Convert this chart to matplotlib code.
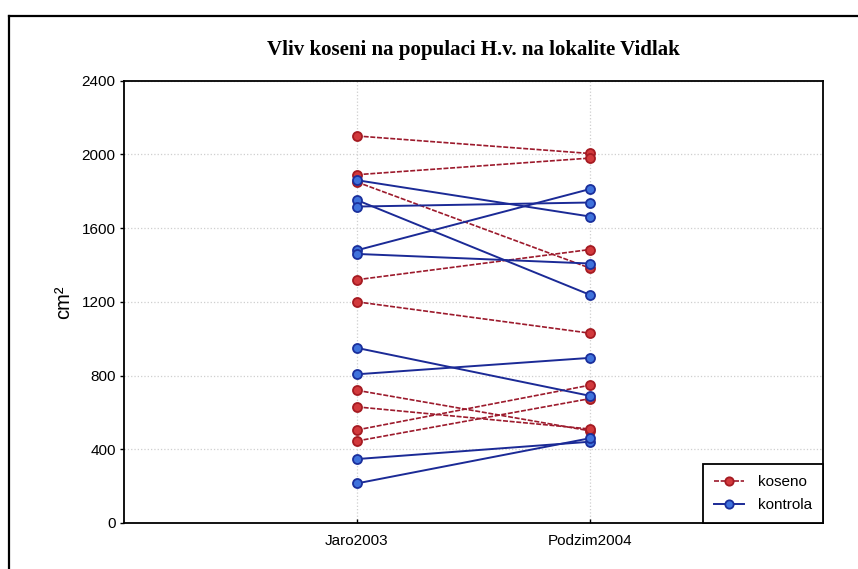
import matplotlib.pyplot as plt
from matplotlib.lines import Line2D

# survey dates
seasons = ["Jaro2003", "Podzim2004"]

# koseno (mown plots), area in cm2
koseno_jaro = [2100, 1890, 1850, 1320, 1200, 720, 630, 505, 445]
koseno_podzim = [2005, 1980, 1383, 1484, 1030, 500, 510, 748, 675]

# kontrola (control plots)
kontrola_jaro = [1860, 1752, 1717, 1480, 1460, 950, 807, 347, 215]
kontrola_podzim = [1663, 1238, 1739, 1812, 1408, 690, 896, 441, 460]

yticks = [0, 400, 800, 1200, 1600, 2000, 2400]

red_line = "#9c1a2c"
red_face = "#d2393c"
red_edge = "#a51b22"
blue_line = "#1b2a96"
blue_face = "#3f72dc"
blue_edge = "#1a2f9c"

fig = plt.figure(figsize=(8.58, 5.69), dpi=100)
ax = fig.add_axes([124 / 858, 46 / 569, 699 / 858, 442.3 / 569])

xpos = [1, 2]

for a, b in zip(koseno_jaro, koseno_podzim):
    ax.plot(xpos, [a, b], color=red_line, lw=1.2, ls=(0, (3, 1)),
            marker="o", ms=6.5, mfc=red_face, mec=red_edge, mew=1.3, zorder=3)

for a, b in zip(kontrola_jaro, kontrola_podzim):
    ax.plot(xpos, [a, b], color=blue_line, lw=1.4, ls="-",
            marker="o", ms=6.5, mfc=blue_face, mec=blue_edge, mew=1.3, zorder=4)

ax.set_xlim(0, 3)
ax.set_ylim(0, 2400)
ax.set_xticks(xpos)
ax.set_xticklabels(seasons)
ax.set_yticks(yticks)

ax.grid(True, color="#cfcfcf", ls=":", lw=0.9, zorder=0)
ax.set_axisbelow(True)

for s in ax.spines.values():
    s.set_linewidth(1.3)
    s.set_color("black")

ax.tick_params(axis="y", direction="out", length=3, width=1, labelsize=11, pad=3)
ax.tick_params(axis="x", direction="in", length=3, width=1, labelsize=11, pad=8)
for lbl in ax.get_xticklabels() + ax.get_yticklabels():
    lbl.set_family("Liberation Sans")

ax.set_ylabel("cm²", family="Liberation Sans", fontsize=14.5, labelpad=6)

fig.text(473 / 858, 1 - 50 / 569, "Vliv koseni na populaci H.v. na lokalite Vidlak",
         ha="center", va="center", family="Liberation Serif", weight="bold",
         fontsize=15)

handles = [
    Line2D([], [], color=red_line, lw=1.2, ls=(0, (3, 1)), marker="o", ms=6,
           mfc=red_face, mec=red_edge, mew=1.3),
    Line2D([], [], color=blue_line, lw=1.4, marker="o", ms=6,
           mfc=blue_face, mec=blue_edge, mew=1.3),
]
leg = ax.legend(handles, ["koseno", "kontrola"], loc="lower right",
                borderaxespad=0, fancybox=False, framealpha=1,
                prop={"family": "Liberation Sans", "size": 11},
                handlelength=2.0, borderpad=0.7, labelspacing=0.6,
                handletextpad=0.9)
leg.get_frame().set_edgecolor("black")
leg.get_frame().set_linewidth(1.3)
leg.set_zorder(10)

# outer frame around the whole chart
fx = 9 / 858
fy = 1 - 16 / 569
fig.add_artist(Line2D([fx, fx], [0, fy], transform=fig.transFigure,
                      color="black", lw=1.6))
fig.add_artist(Line2D([fx, 1], [fy, fy], transform=fig.transFigure,
                      color="black", lw=1.6))

fig.savefig("out.png", dpi=100)
